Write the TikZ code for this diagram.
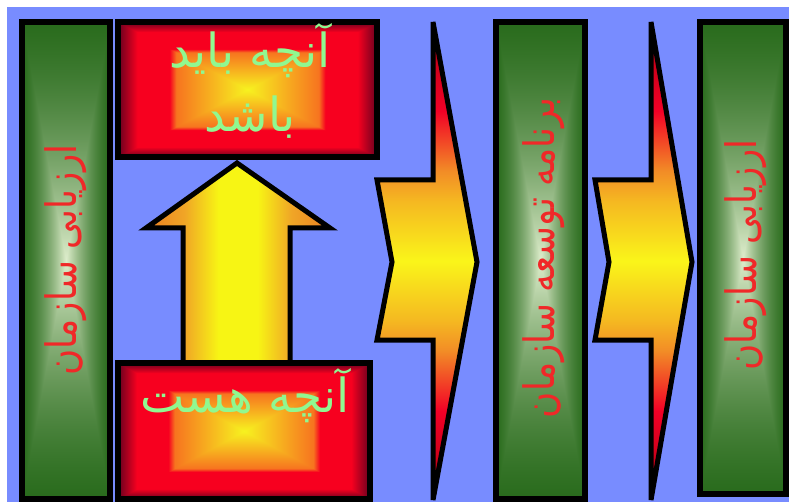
\documentclass[tikz,border=0pt]{standalone}
\usepackage{fontspec}
\newfontfamily\arabicfont[Script=Arabic]{DejaVu Sans}
\TeXXeTstate=1
\definecolor{bgblue}{RGB}{120,140,255}
\definecolor{txtgreen}{RGB}{144,248,144}
\definecolor{txtred}{RGB}{240,40,40}
\definecolor{cdark}{rgb}{0.45,0,0.05}
\definecolor{cdr}{rgb}{0.8,0,0.1}
\definecolor{cred}{rgb}{0.95,0,0.15}
\definecolor{corange}{rgb}{0.95,0.55,0.15}
\definecolor{coy}{rgb}{0.96,0.72,0.13}
\definecolor{cyel}{rgb}{0.98,0.96,0.1}
\definecolor{ao}{rgb}{0.93,0.5,0.13}
\definecolor{am}{rgb}{0.94,0.65,0.15}
\definecolor{ay}{rgb}{0.97,0.96,0.08}
\pgfdeclareverticalshading{chevshade}{100bp}{color(0bp)=(cdark); color(25bp)=(cdark); color(29.1bp)=(cdr); color(34.3bp)=(cred); color(40.6bp)=(corange); color(43.7bp)=(coy); color(50bp)=(cyel); color(56.3bp)=(coy); color(59.4bp)=(corange); color(65.7bp)=(cred); color(70.9bp)=(cdr); color(75bp)=(cdark); color(100bp)=(cdark)}
\pgfdeclarehorizontalshading{arrshade}{100bp}{color(0bp)=(ao); color(25bp)=(ao); color(35.5bp)=(am); color(44.7bp)=(ay); color(55.3bp)=(ay); color(64.5bp)=(am); color(75bp)=(ao); color(100bp)=(ao)}
\pgfdeclarefunctionalshading{redrect}{\pgfpointorigin}{\pgfpoint{100bp}{100bp}}{}{
 50 sub abs 25 div exch 50 sub abs 25 div
 2 copy lt {exch} if pop
 dup 0.85 sub dup 0 lt {pop 0} if 3.8 mul 0.97 exch sub
 exch
 dup 0.55 sub dup 0 lt {pop 0} if 8 mul
 exch 0.9 mul 0.95 exch sub exch sub
 dup 0 lt {pop 0} if
 0.12
}
\pgfdeclarefunctionalshading{greenrect}{\pgfpointorigin}{\pgfpoint{100bp}{100bp}}{}{
 50 sub abs 25 div exch 50 sub abs 25 div
 2 copy lt {exch} if pop
 dup 0.6 mul 1.6 exch sub mul
 dup -0.71 mul 0.87 add exch
 dup -0.51 mul 0.93 add exch
 -0.69 mul 0.8 add
}
\newcommand{\rtltext}[1]{\beginR #1\endR}
\newcommand{\bartxt}[1]{\scalebox{0.85}[1]{\beginR #1\endR}}
\begin{document}
\begin{tikzpicture}[x=1pt,y=-1pt,
  border/.style={draw=black,line width=6pt,line join=miter},
  greenbar/.style={border,shade,shading=greenrect},
  redbox/.style={border,shade,shading=redrect},
  chevron/.style={border,line width=5pt,shade,shading=chevshade},
  uparrow/.style={border,line width=5pt,shade,shading=arrshade},
  boxtext/.style={font=\arabicfont\fontsize{47}{56}\selectfont,text=txtgreen,align=center,inner sep=0pt},
  bartext/.style={font=\arabicfont\fontsize{42}{50}\selectfont,text=txtred,rotate=90,inner sep=0pt}
]
\useasboundingbox (0,0) rectangle (789,502);
\fill[white] (0,0) rectangle (789,502);
\fill[bgblue] (7,7) rectangle (789,502);
% up arrow
\path[uparrow] (237,163) -- (330,228) -- (290,228) -- (290,365) -- (183,365) -- (183,228) -- (146,228) -- cycle;
% left bar
\path[greenbar] (22,22) rectangle (110,499);
% boxes
\path[redbox] (118,22) rectangle (377,157);
\path[redbox] (118,363) rectangle (370,499);
% chevrons
\path[chevron] (433,22) -- (477,262) -- (433,500) -- (433,340) -- (377,340) -- (392,262) -- (377,180) -- (433,180) -- cycle;
\path[chevron] (651,22) -- (692,262) -- (651,500) -- (651,340) -- (595,340) -- (609,262) -- (595,180) -- (651,180) -- cycle;
% bars
\path[greenbar] (496,22) rectangle (585,499);
\path[greenbar] (700,22) rectangle (786,494);
% texts
\node[boxtext] (t1) at (250,51) {\rtltext{آنچه باید}};
\node[boxtext] (t2) at (250,117) {\rtltext{باشد}};
\node[boxtext] (t3) at (245,396) {\rtltext{آنچه هست}};
\node[bartext] (b1) at (66,260) {\bartxt{ارزیابی سازمان}};
\node[bartext] (b2) at (544,258) {\bartxt{برنامه توسعه سازمان}};
\node[bartext] (b3) at (746,255) {\bartxt{ارزیابی سازمان}};
\end{tikzpicture}
\end{document}
